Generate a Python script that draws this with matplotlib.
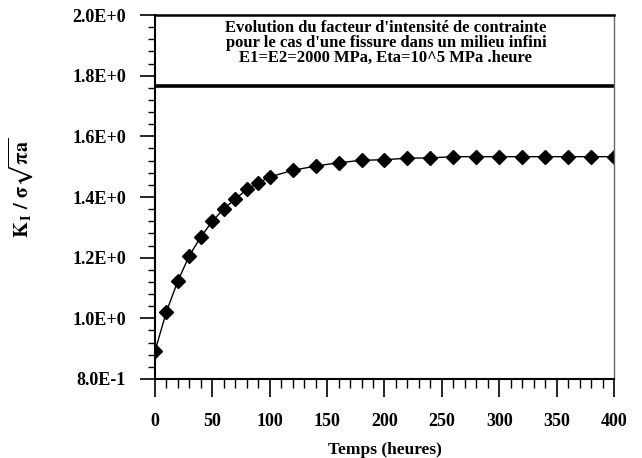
import numpy as np
import matplotlib
matplotlib.use('Agg')
import matplotlib.pyplot as plt
from matplotlib.ticker import MultipleLocator, FuncFormatter

# temps (heures) et K_I / (sigma sqrt(pi a))
temps = [0, 10, 20, 30, 40, 50, 60, 70, 80, 90, 100, 120, 140, 160, 180,
         200, 220, 240, 260, 280, 300, 320, 340, 360, 380, 400]
k_norm = [0.892, 1.022, 1.124, 1.207, 1.269, 1.320, 1.362, 1.393, 1.425,
          1.446, 1.466, 1.488, 1.502, 1.513, 1.521, 1.523, 1.528, 1.529,
          1.533, 1.533, 1.533, 1.533, 1.533, 1.533, 1.533, 1.533]

titre = ["Evolution du facteur d'intensité de contrainte",
         "pour le cas d'une fissure dans un milieu infini",
         "E1=E2=2000 MPa, Eta=10^5 MPa .heure"]

plt.rcParams['font.family'] = ['Liberation Serif', 'DejaVu Serif']
plt.rcParams['font.weight'] = 'bold'
plt.rcParams['mathtext.fontset'] = 'stix'


def fmt_e(v, pos):
    s = '%.1E' % v
    mant, exp = s.split('E')
    return '%sE%+d' % (mant, int(exp))


fig = plt.figure(figsize=(6.42, 4.58), dpi=100)
ax = fig.add_axes([0.2414, 0.1725, 0.7150, 0.7947])

ax.plot(temps, k_norm, color='black', linewidth=1.0, marker='D',
        markersize=7, markerfacecolor='black', markeredgecolor='black')

ax.set_xlim(0, 400)
ax.set_ylim(0.8, 2.0)

# cadre du titre
ax.axhline(1.765, color='black', linewidth=2.6)
for i, ligne in enumerate(titre):
    ax.text(0.503, 0.963 - i * 0.041, ligne, transform=ax.transAxes,
            ha='center', va='center', fontsize=12, fontweight='bold')

ax.xaxis.set_major_locator(MultipleLocator(50))
ax.xaxis.set_minor_locator(MultipleLocator(10))
ax.yaxis.set_major_locator(MultipleLocator(0.2))
ax.yaxis.set_minor_locator(MultipleLocator(0.04))
ax.yaxis.set_major_formatter(FuncFormatter(fmt_e))

ax.tick_params(axis='x', which='major', direction='out', length=12.7,
               width=1.2, pad=12, labelsize=13)
ax.tick_params(axis='x', which='minor', direction='out', length=6.5, width=1.0)
ax.tick_params(axis='y', which='major', direction='out', length=10.8,
               width=1.2, pad=10, labelsize=13)
ax.tick_params(axis='y', which='minor', direction='out', length=5, width=1.0)

for lab in ax.get_xticklabels() + ax.get_yticklabels():
    lab.set_fontweight('bold')

ax.spines['left'].set_linewidth(1.5)
ax.spines['bottom'].set_linewidth(1.5)
ax.spines['top'].set_linewidth(1.8)
ax.spines['right'].set_linewidth(1.0)
ax.spines['right'].set_color('#666666')

ax.set_xlabel('Temps (heures)', fontsize=12.5, fontweight='bold')
ax.xaxis.set_label_coords(0.5, -0.173)
ax.set_ylabel(r'$\mathbf{K_{\,I}\ /\ \sigma\sqrt{\pi a}}$', fontsize=14.5)
ax.yaxis.set_label_coords(-0.262, 0.527)

fig.savefig('out.png', dpi=100)
